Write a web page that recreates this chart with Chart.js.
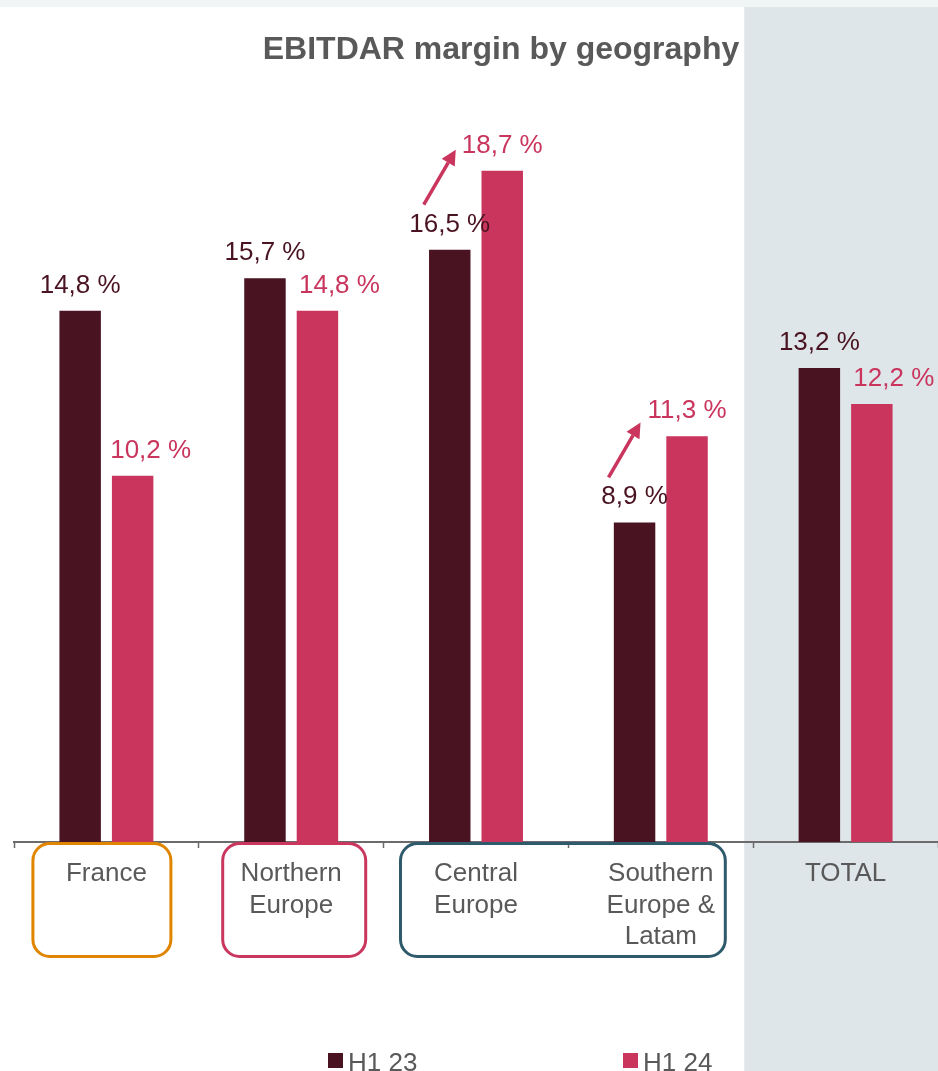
<!DOCTYPE html>
<html>
<head>
<meta charset="utf-8">
<script src="https://cdn.jsdelivr.net/npm/chart.js@4.4.1/dist/chart.umd.min.js"></script>
<style>
  html, body { margin: 0; padding: 0; background: #ffffff; }
  #wrap { width: 938px; height: 1071px; position: relative; }
  canvas { display: block; }
</style>
</head>
<body>
<div id="wrap"><canvas id="c" width="938" height="1071"></canvas></div>
<script>
// ---------------- DATA ----------------
const chartTitle = "EBITDAR margin by geography";
const categories = [["France"], ["Northern", "Europe"], ["Central", "Europe"], ["Southern", "Europe &", "Latam"], ["TOTAL"]];
const seriesNames = ["H1 23", "H1 24"];
const h1_23 = [14.8, 15.7, 16.5, 8.9, 13.2];
const h1_24 = [10.2, 14.8, 18.7, 11.3, 12.2];
const arrowCategories = [2, 3];          // categories with a growth arrow
const boxGroups = [[0, 0], [1, 1], [2, 3]]; // category ranges framed below the axis
const yMax = 20;

// ---------------- STYLE ----------------
const DARK = "#4a1321";
const PINK = "#c9355d";
const GREY_TEXT = "#595959";
const FONT = '"Liberation Sans", Arial, Helvetica, sans-serif';
const boxColors = ["#df8500", "#c9365e", "#2e5a6b"];
const boxInsets = [[-75, 66], [-70, 76], [-77, 66]];
const pinkLabelDx = [18, 22, 0, 0, 22];
const legendX = [328, 623];

function fmt(v) { return v.toFixed(1).replace(".", ",") + " %"; }

function roundRect(ctx, x, y, w, h, r) {
  ctx.beginPath();
  ctx.moveTo(x + r, y);
  ctx.lineTo(x + w - r, y);
  ctx.arcTo(x + w, y, x + w, y + r, r);
  ctx.lineTo(x + w, y + h - r);
  ctx.arcTo(x + w, y + h, x + w - r, y + h, r);
  ctx.lineTo(x + r, y + h);
  ctx.arcTo(x, y + h, x, y + h - r, r);
  ctx.lineTo(x, y + r);
  ctx.arcTo(x, y, x + r, y, r);
  ctx.closePath();
}

const decorPlugin = {
  id: "decor",
  beforeDraw(chart) {
    const ctx = chart.ctx;
    const xs = chart.scales.x;
    ctx.save();
    // top strip
    ctx.fillStyle = "#f1f5f6";
    ctx.fillRect(0, 0, chart.width, 7);
    // total panel
    const last = categories.length - 1;
    const panelLeft = xs.getPixelForValue(last) - xs.width / categories.length / 2 - 9;
    ctx.fillStyle = "#dfe6ea";
    ctx.fillRect(panelLeft, 7, chart.width - panelLeft, chart.height - 7);
    // title
    ctx.fillStyle = GREY_TEXT;
    ctx.font = "bold 32px " + FONT;
    ctx.textAlign = "center";
    ctx.textBaseline = "middle";
    ctx.fillText(chartTitle, 501, 50);
    ctx.restore();
  },
  afterDatasetsDraw(chart) {
    const ctx = chart.ctx;
    const m0 = chart.getDatasetMeta(0).data;
    const m1 = chart.getDatasetMeta(1).data;
    ctx.save();
    ctx.font = "26px " + FONT;
    ctx.textAlign = "center";
    ctx.textBaseline = "alphabetic";
    for (let i = 0; i < categories.length; i++) {
      ctx.fillStyle = DARK;
      ctx.fillText(fmt(h1_23[i]), m0[i].x, m0[i].y - 18);
      ctx.fillStyle = PINK;
      ctx.fillText(fmt(h1_24[i]), m1[i].x + pinkLabelDx[i], m1[i].y - 18);
    }
    // arrows
    ctx.strokeStyle = PINK;
    ctx.fillStyle = PINK;
    ctx.lineWidth = 3.5;
    arrowCategories.forEach(i => {
      const bx = m0[i].x, by = m0[i].y;
      const x1 = bx - 26, y1 = by - 45;
      const x2 = bx + 6, y2 = by - 100;
      const ang = Math.atan2(y2 - y1, x2 - x1);
      const hl = 15, hw = 7.5;
      const bxh = x2 - hl * Math.cos(ang), byh = y2 - hl * Math.sin(ang);
      ctx.beginPath();
      ctx.moveTo(x1, y1);
      ctx.lineTo(bxh, byh);
      ctx.stroke();
      ctx.beginPath();
      ctx.moveTo(x2, y2);
      ctx.lineTo(bxh + hw * Math.sin(ang), byh - hw * Math.cos(ang));
      ctx.lineTo(bxh - hw * Math.sin(ang), byh + hw * Math.cos(ang));
      ctx.closePath();
      ctx.fill();
    });
    ctx.restore();
  },
  afterDraw(chart) {
    const ctx = chart.ctx;
    const xs = chart.scales.x;
    const axisY = chart.chartArea.bottom;
    ctx.save();
    // boxes around category labels
    ctx.lineWidth = 3;
    boxGroups.forEach((g, k) => {
      const l = xs.getPixelForValue(g[0]) + boxInsets[k][0];
      const r = xs.getPixelForValue(g[1]) + boxInsets[k][1];
      ctx.strokeStyle = boxColors[k];
      roundRect(ctx, l + 1.5, axisY + 1.5, r - l - 3, 958 - axisY - 3, 17);
      ctx.stroke();
    });
    // legend
    ctx.font = "26px " + FONT;
    ctx.textAlign = "left";
    ctx.textBaseline = "alphabetic";
    chart.data.datasets.forEach((ds, k) => {
      ctx.fillStyle = ds.backgroundColor;
      ctx.fillRect(legendX[k], 1053, 15, 15);
      ctx.fillStyle = GREY_TEXT;
      ctx.fillText(ds.label, legendX[k] + 20, 1071);
    });
    ctx.restore();
  }
};

new Chart(document.getElementById("c"), {
  type: "bar",
  data: {
    labels: categories,
    datasets: [
      { label: seriesNames[0], data: h1_23, backgroundColor: DARK, borderWidth: 0 },
      { label: seriesNames[1], data: h1_24, backgroundColor: PINK, borderWidth: 0 }
    ]
  },
  options: {
    responsive: false,
    animation: false,
    devicePixelRatio: 1,
    layout: { padding: { left: 14, right: 0, top: 124, bottom: 0 } },
    datasets: { bar: { categoryPercentage: 0.568, barPercentage: 0.79 } },
    plugins: {
      legend: { display: false },
      title: { display: false },
      tooltip: { enabled: false }
    },
    scales: {
      x: {
        afterFit(scale) { scale.height = 229; },
        grid: {
          display: true,
          drawOnChartArea: false,
          drawTicks: true,
          tickLength: 6,
          tickColor: "#6b6b6b",
          tickWidth: 1.5
        },
        border: { display: true, color: "#6b6b6b", width: 2 },
        ticks: {
          autoSkip: false,
          maxRotation: 0,
          minRotation: 0,
          padding: 10,
          color: GREY_TEXT,
          font: { family: FONT, size: 26, lineHeight: 1.22 }
        }
      },
      y: {
        display: false,
        min: 0,
        max: yMax
      }
    }
  },
  plugins: [decorPlugin]
});
</script>
</body>
</html>
